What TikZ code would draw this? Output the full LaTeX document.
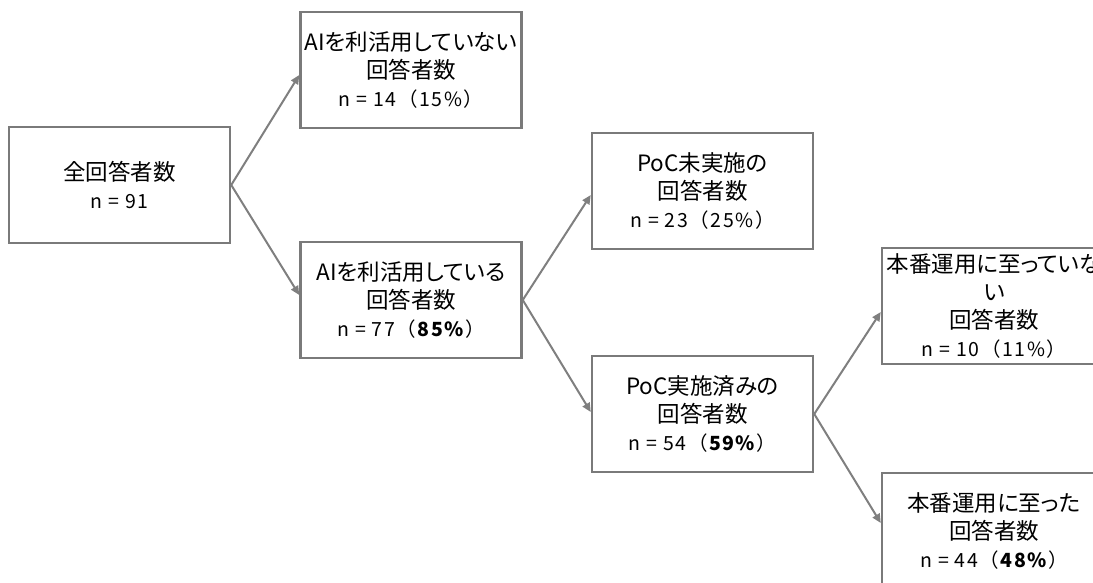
\documentclass[tikz,border=0pt]{standalone}
\usepackage{fontspec}
\setmainfont{Noto Sans CJK JP}
\newfontfamily\jpmain{Noto Sans CJK JP}[RawFeature=+palt]
\newfontfamily\nfam{Noto Sans CJK JP}[LetterSpace=8]
\usetikzlibrary{arrows.meta}
\definecolor{boxgray}{HTML}{7A7A7A}
\definecolor{linegray}{HTML}{7F7F7F}
\newcommand{\nfont}{\nfam\fontsize{19.5}{28}\selectfont}
\begin{document}
\begin{tikzpicture}[x=1pt,y=-1pt,
  box/.style={draw=boxgray, line width=2.5pt, minimum width=221pt, minimum height=116pt,
    align=center, inner sep=0pt, font=\jpmain\fontsize{22.5}{28}\selectfont},
  conn/.style={draw=linegray, line width=2pt, -{Triangle[length=9pt,width=8pt]}}]
\useasboundingbox (0,0) rectangle (1093,582);
\clip (0,0) rectangle (1093,582);
\node[box] (A) at (119.5,185) {全回答者数\\{\nfont n = 91}};
\node[box] (B) at (411,70) {AIを利活用していない\\回答者数\\{\nfont n = 14（15\%）}};
\node[box] (C) at (411,300) {AIを利活用している\\回答者数\\{\nfont n = 77（\textbf{85\%}）}};
\node[box] (D) at (702.5,191) {PoC未実施の\\回答者数\\{\nfont n = 23（25\%）}};
\node[box] (E) at (702.5,414) {PoC実施済みの\\回答者数\\{\nfont n = 54（\textbf{59\%}）}};
\node[box, minimum width=224pt] (F) at (994,306) {本番運用に至っていな\\い\\回答者数\\{\nfont n = 10（11\%）}};
\node[box, minimum width=224pt] (G) at (994,531) {本番運用に至った\\回答者数\\{\nfont n = 44（\textbf{48\%}）}};
\draw[conn] (A.east) -- ([yshift=-5pt]B.west);
\draw[conn] (A.east) -- ([yshift=5pt]C.west);
\draw[conn] (C.east) -- ([yshift=-4pt]D.west);
\draw[conn] (C.east) -- ([yshift=2pt]E.west);
\draw[conn] (E.east) -- ([yshift=-6pt]F.west);
\draw[conn] (E.east) -- ([yshift=8pt]G.west);
\end{tikzpicture}
\end{document}
